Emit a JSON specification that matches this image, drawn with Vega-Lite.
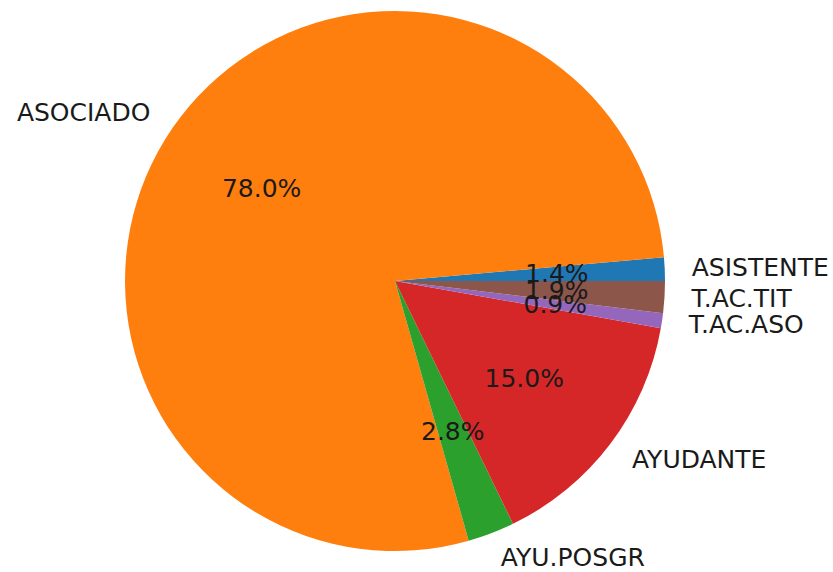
{
  "$schema": "https://vega.github.io/schema/vega-lite/v6.json",
  "width": 790,
  "height": 562,
  "padding": {"left": 0, "top": 0, "right": 43, "bottom": 10},
  "autosize": "none",
  "background": "white",
  "config": {"view": {"stroke": null}},
  "data": {"values": [
    {"cat": "ASISTENTE", "share": 0.014},
    {"cat": "ASOCIADO", "share": 0.780},
    {"cat": "AYU.POSGR", "share": 0.028},
    {"cat": "AYUDANTE", "share": 0.150},
    {"cat": "T.AC.ASO", "share": 0.009},
    {"cat": "T.AC.TIT", "share": 0.019}
  ]},
  "encoding": {
    "theta": {"field": "share", "type": "quantitative", "stack": true, "scale": {"range": [1.5707963, -4.712389]}},
    "order": {"field": "cat", "type": "nominal", "sort": "ascending"}
  },
  "layer": [
    {
      "mark": {"type": "arc", "outerRadius": 270},
      "encoding": {
        "color": {"field": "cat", "type": "nominal", "legend": null,
          "scale": {"domain": ["ASISTENTE", "ASOCIADO", "AYU.POSGR", "AYUDANTE", "T.AC.ASO", "T.AC.TIT"],
                    "range": ["#1f77b4", "#ff7f0e", "#2ca02c", "#d62728", "#9467bd", "#8c564b"]}}
      }
    },
    {
      "mark": {"type": "text", "radius": 162, "font": "DejaVu Sans", "fontSize": 25, "fill": "#1a1a1a", "baseline": "middle", "align": "center"},
      "encoding": {"text": {"field": "share", "type": "quantitative", "format": ".1%"}}
    },
    {
      "mark": {"type": "text", "radius": 297, "font": "DejaVu Sans", "fontSize": 25, "fill": "#1a1a1a", "baseline": "middle", "align": "left"},
      "encoding": {"text": {"condition": {"test": "datum.cat !== 'ASOCIADO'", "field": "cat", "type": "nominal"}, "value": ""}}
    },
    {
      "mark": {"type": "text", "radius": 297, "font": "DejaVu Sans", "fontSize": 25, "fill": "#1a1a1a", "baseline": "middle", "align": "right"},
      "encoding": {"text": {"condition": {"test": "datum.cat === 'ASOCIADO'", "field": "cat", "type": "nominal"}, "value": ""}}
    }
  ]
}
